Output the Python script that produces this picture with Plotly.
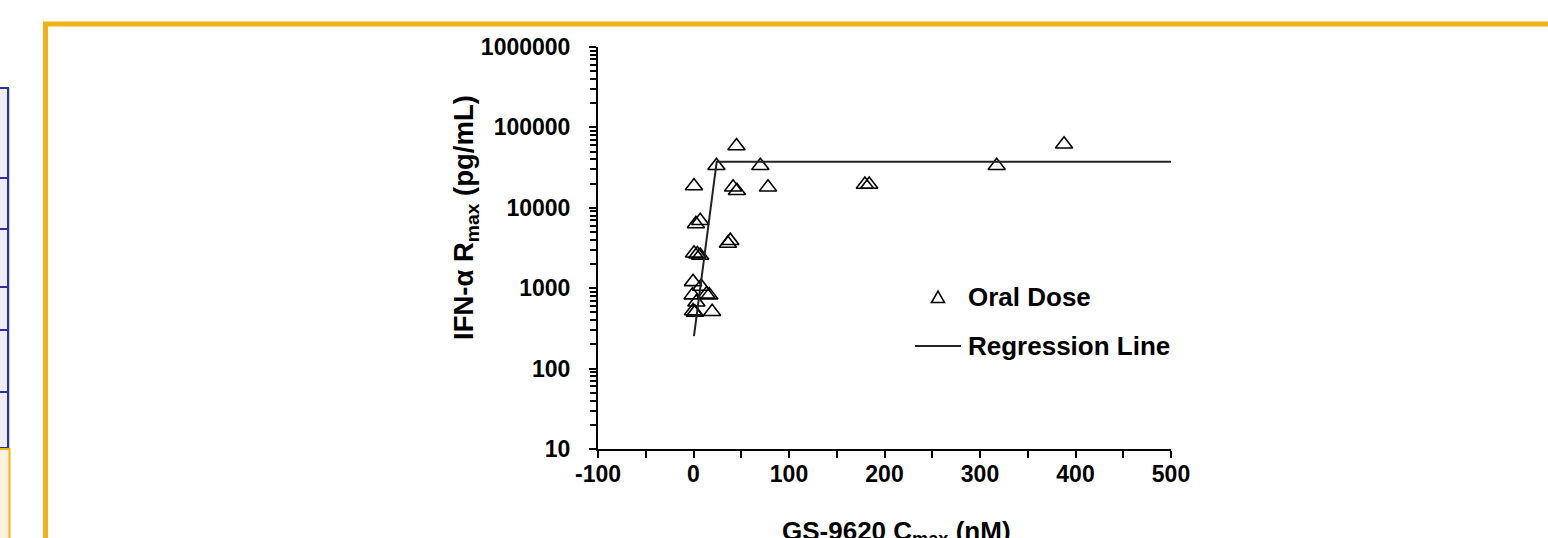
import plotly.graph_objects as go

# ---------------- data ----------------
cmax_nM = [45, 24, 70, 0.5, 41.5, 45.5, 78, 2.5, 7, 38.5, 36, 0.5, 4, 7,
           -0.5, 8, -1, 3, 13.5, 16.5, -0.5, 1.5, 19.5, 317.5, 388, 179.5, 184]
ifn_rmax = [58700, 33400, 33400, 18700, 18000, 16300, 18000, 6300, 6900, 3900,
            3600, 2720, 2650, 2550, 1200, 1050, 820, 670, 840, 820, 520, 500,
            510, 33400, 61600, 19500, 19500]

reg_x = [0.5, 24.3, 509]
reg_y = [254, 37500, 37500]

x_tick_vals = [-100, 0, 100, 200, 300, 400, 500]
x_tick_text = ["-100", "0", "100", "200", "300", "400", "500"]
y_tick_vals = [10, 100, 1000, 10000, 100000, 1000000]
y_tick_text = ["10", "100", "1000", "10000", "100000", "1000000"]

series_names = ["Oral Dose", "Regression Line"]

# ---------------- layout geometry (screen pixels) ----------------
OFF = 0                      # page body margin removed below
W, H = 1548, 538
L, R, T, B = 598, 1171, 47, 449


def px(xp):
    return (xp - L) / (R - L)


def py(yp):
    return (B - yp) / (B - T)


FONT = "Arial, Liberation Sans, Helvetica, sans-serif"
GOLD = "#EFB313"
NAVY = "#2E3192"

fig = go.Figure()
fig.add_trace(go.Scatter(
    x=cmax_nM, y=ifn_rmax, mode="markers", name=series_names[0],
    marker=dict(symbol="triangle-up-open", size=15, color="black",
                line=dict(width=1.6, color="black")),
    showlegend=False))
fig.add_trace(go.Scatter(
    x=reg_x, y=reg_y, mode="lines", name=series_names[1],
    line=dict(color="#222222", width=2), showlegend=False))

shapes = []
# gold slide frame
shapes.append(dict(type="line", xref="paper", yref="paper",
                   x0=px(43), x1=px(1560), y0=py(24), y1=py(24),
                   line=dict(color=GOLD, width=5)))
shapes.append(dict(type="line", xref="paper", yref="paper",
                   x0=px(45.5), x1=px(45.5), y0=py(22), y1=py(560),
                   line=dict(color=GOLD, width=5)))
# left navy table fragment
shapes.append(dict(type="rect", xref="paper", yref="paper",
                   x0=px(-15), x1=px(8), y0=py(88), y1=py(448),
                   fillcolor="#ECEBF6", line=dict(color=NAVY, width=2)))
for yy in [178, 229, 287, 330, 392]:
    shapes.append(dict(type="line", xref="paper", yref="paper",
                       x0=px(-15), x1=px(8), y0=py(yy), y1=py(yy),
                       line=dict(color=NAVY, width=2)))
shapes.append(dict(type="line", xref="paper", yref="paper",
                   x0=px(9.5), x1=px(9.5), y0=py(88), y1=py(448),
                   line=dict(color="#C9CCEA", width=1)))
# gold box below
shapes.append(dict(type="rect", xref="paper", yref="paper",
                   x0=px(-15), x1=px(9.5), y0=py(449), y1=py(560),
                   fillcolor="#FBF1DF", line=dict(color=GOLD, width=2)))
# legend symbols
tri_cx, tri_cy, tri_r = 938, 297, 6.5
shapes.append(dict(type="path", xref="paper", yref="paper",
                   path="M {:.5f} {:.5f} L {:.5f} {:.5f} L {:.5f} {:.5f} Z".format(
                       px(tri_cx - tri_r), py(tri_cy + 5.5),
                       px(tri_cx + tri_r), py(tri_cy + 5.5),
                       px(tri_cx), py(tri_cy - 6)),
                   line=dict(color="black", width=1.6)))
shapes.append(dict(type="line", xref="paper", yref="paper",
                   x0=px(915), x1=px(961), y0=py(346), y1=py(346),
                   line=dict(color="#222222", width=2)))

annotations = [
    dict(text="<b>" + series_names[0] + "</b>", xref="paper", yref="paper",
         x=px(966), y=py(297), xanchor="left", yanchor="middle",
         showarrow=False, font=dict(family=FONT, size=26, color="black")),
    dict(text="<b>" + series_names[1] + "</b>", xref="paper", yref="paper",
         x=px(966), y=py(346), xanchor="left", yanchor="middle",
         showarrow=False, font=dict(family=FONT, size=26, color="black")),
    dict(text="<b>GS-9620 C<sub>max</sub> (nM)</b>", xref="paper", yref="paper",
         x=px(896), y=py(532), xanchor="center", yanchor="middle",
         showarrow=False, font=dict(family=FONT, size=26, color="black")),
    dict(text="<b>IFN-α R<sub>max</sub> (pg/mL)</b>", xref="paper", yref="paper",
         x=px(465), y=py(218), xanchor="center", yanchor="middle", textangle=-90,
         showarrow=False, font=dict(family=FONT, size=27.5, color="black")),
]

fig.update_layout(
    width=W, height=H,
    margin=dict(l=L - OFF, r=W - R + OFF, t=T - OFF, b=H - B + OFF, pad=0),
    paper_bgcolor="white", plot_bgcolor="white",
    font=dict(family=FONT, size=23, color="black"),
    shapes=shapes, annotations=annotations, showlegend=False,
)
fig.update_xaxes(
    range=[-100, 500], showgrid=False, zeroline=False,
    showline=True, linecolor="black", linewidth=2,
    ticks="outside", ticklen=7, tickwidth=2, tickcolor="black",
    tickvals=x_tick_vals, ticktext=x_tick_text,
    tickfont=dict(family=FONT, size=23, color="black", weight="bold"),
    ticklabelstandoff=-4,
    minor=dict(ticks="outside", ticklen=7, tickwidth=2, tickcolor="black",
               dtick=50, showgrid=False),
)
fig.update_yaxes(
    type="log", range=[1, 6], showgrid=False, zeroline=False,
    showline=True, linecolor="black", linewidth=2,
    ticks="outside", ticklen=7, tickwidth=2, tickcolor="black",
    tickvals=y_tick_vals, ticktext=y_tick_text,
    tickfont=dict(family=FONT, size=23, color="black", weight="bold"),
    ticklabelstandoff=14,
    minor=dict(ticks="outside", ticklen=6, tickwidth=1.5, tickcolor="black",
               dtick="D1", showgrid=False),
)

fig.write_html(
    "out.html",
    config={"displayModeBar": False},
    post_script="document.body.style.margin='0';document.body.style.overflow='hidden';",
)
